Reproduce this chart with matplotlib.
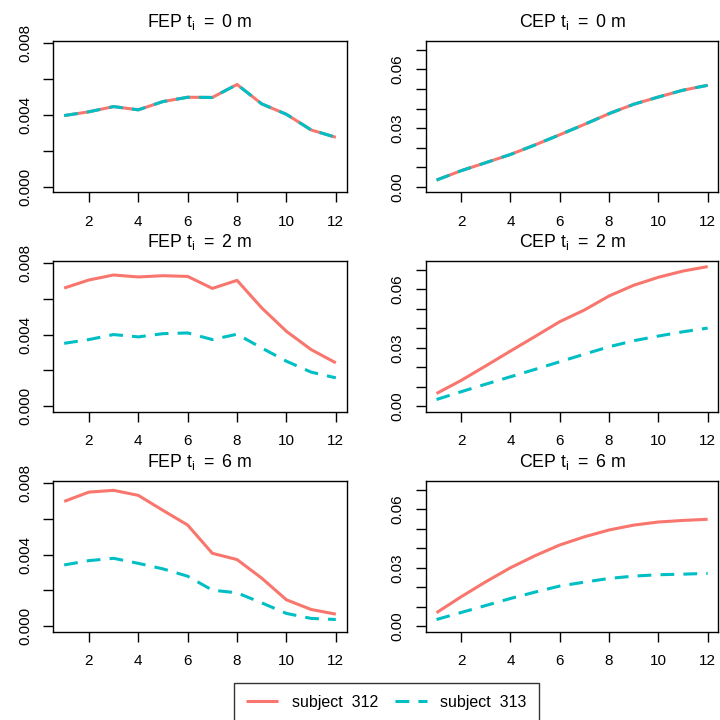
import matplotlib
matplotlib.use("Agg")
import matplotlib.pyplot as plt
import numpy as np

plt.rcParams['font.family'] = ['Liberation Sans', 'DejaVu Sans']
plt.rcParams['mathtext.fontset'] = 'custom'
plt.rcParams['mathtext.rm'] = 'Liberation Sans'

months = np.arange(1, 13)

# FEP, t_i = 0 m (both subjects almost identical)
fep0_312 = [0.00396, 0.00417, 0.00446, 0.00428, 0.00474, 0.00498,
            0.00497, 0.00569, 0.00461, 0.00403, 0.00316, 0.00275]
fep0_313 = [0.00396, 0.00417, 0.00446, 0.00428, 0.00474, 0.00498,
            0.00497, 0.00569, 0.00461, 0.00403, 0.00316, 0.00275]
# FEP, t_i = 2 m
fep2_312 = [0.00660, 0.00705, 0.00733, 0.00722, 0.00729, 0.00725,
            0.00658, 0.00703, 0.00549, 0.00418, 0.00316, 0.00242]
fep2_313 = [0.00351, 0.00372, 0.00400, 0.00387, 0.00405, 0.00409,
            0.00372, 0.00402, 0.00325, 0.00251, 0.00190, 0.00158]
# FEP, t_i = 6 m
fep6_312 = [0.00697, 0.00749, 0.00759, 0.00731, 0.00647, 0.00565,
            0.00407, 0.00372, 0.00268, 0.00147, 0.00093, 0.00067]
fep6_313 = [0.00342, 0.00366, 0.00379, 0.00351, 0.00320, 0.00279,
            0.00201, 0.00186, 0.00130, 0.00071, 0.00043, 0.00037]

# CEP, t_i = 0 m
cep0_312 = [0.0034, 0.0082, 0.0123, 0.0165, 0.0214, 0.0266,
            0.0319, 0.0374, 0.0422, 0.0459, 0.0494, 0.0519]
cep0_313 = [0.0034, 0.0082, 0.0123, 0.0165, 0.0214, 0.0266,
            0.0319, 0.0374, 0.0422, 0.0459, 0.0494, 0.0519]
# CEP, t_i = 2 m
cep2_312 = [0.0065, 0.0132, 0.0207, 0.0283, 0.0358, 0.0434,
            0.0494, 0.0566, 0.0621, 0.0662, 0.0694, 0.0717]
cep2_313 = [0.0034, 0.0074, 0.0113, 0.0151, 0.0189, 0.0228,
            0.0267, 0.0305, 0.0336, 0.0360, 0.0382, 0.0401]
# CEP, t_i = 6 m
cep6_312 = [0.0069, 0.0151, 0.0228, 0.0300, 0.0362, 0.0417,
            0.0459, 0.0494, 0.0519, 0.0535, 0.0543, 0.0549]
cep6_313 = [0.0034, 0.0070, 0.0106, 0.0142, 0.0175, 0.0206,
            0.0226, 0.0245, 0.0257, 0.0264, 0.0267, 0.0271]

times = [0, 2, 6]
fep_data = [(fep0_312, fep0_313), (fep2_312, fep2_313), (fep6_312, fep6_313)]
cep_data = [(cep0_312, cep0_313), (cep2_312, cep2_313), (cep6_312, cep6_313)]
labels = ["subject  312", "subject  313"]

red = "#F8766D"
cyan = "#00BFC4"

fig = plt.figure(figsize=(7.2, 7.2), dpi=100)

W, H = 720.0, 720.0
col_x = [(53.3, 346.7), (425.7, 718.5)]
row_y = [(41, 192.3), (261, 411.7), (481, 631.7)]

fep_ticks = [0, 0.002, 0.004, 0.006, 0.008]
fep_labels = ["0.000", "", "0.004", "", "0.008"]
cep_ticks = [0, 0.01, 0.02, 0.03, 0.04, 0.05, 0.06, 0.07]
cep_labels = ["0.00", "", "", "0.03", "", "", "0.06", ""]


def make_ax(col, row):
    x0, x1 = col_x[col]
    y0, y1 = row_y[row]
    ax = fig.add_axes([x0 / W, 1 - y1 / H, (x1 - x0) / W, (y1 - y0) / H])
    for s in ax.spines.values():
        s.set_linewidth(1.0)
        s.set_color("black")
    ax.tick_params(direction="out", length=7, width=1.0, labelsize=11,
                   colors="black")
    ax.tick_params(axis="x", pad=9)
    ax.tick_params(axis="y", pad=8)
    ax.set_xlim(0.56, 12.44)
    ax.set_xticks([2, 4, 6, 8, 10, 12])
    return ax


lines = []
for r, t in enumerate(times):
    for c, (name, data, ticks, tlabels, ymax) in enumerate([
            ("FEP", fep_data[r], fep_ticks, fep_labels, 0.0078),
            ("CEP", cep_data[r], cep_ticks, cep_labels, 0.0717)]):
        ax = make_ax(c, r)
        l1, = ax.plot(months, data[0], color=red, lw=2.2, label=labels[0],
                      solid_capstyle="butt")
        l2, = ax.plot(months, data[1], color=cyan, lw=2.2, ls=(0, (4.5, 3)),
                      label=labels[1], dash_capstyle="butt")
        lines = [l1, l2]
        ax.set_ylim(-0.04 * ymax, 1.04 * ymax)
        ax.set_yticks(ticks)
        ax.set_yticklabels(tlabels, rotation=90, va="center")
        ax.text(0.5, 1 + 14 / 151.3,
                name + r" $\mathregular{t_i\;=\;%d}$ m" % t,
                transform=ax.transAxes, ha="center", va="baseline",
                fontsize=12.8)

leg = fig.legend(lines, labels, loc="upper center", ncol=2,
                 bbox_to_anchor=(386.5 / W, 1 - 682.7 / H),
                 fontsize=11.5, frameon=True, fancybox=False,
                 edgecolor="black", handlelength=2.0, handletextpad=0.84,
                 columnspacing=1.06, borderpad=0.75, borderaxespad=0)
leg.get_frame().set_linewidth(1.0)

fig.savefig("out.png", dpi=100)
